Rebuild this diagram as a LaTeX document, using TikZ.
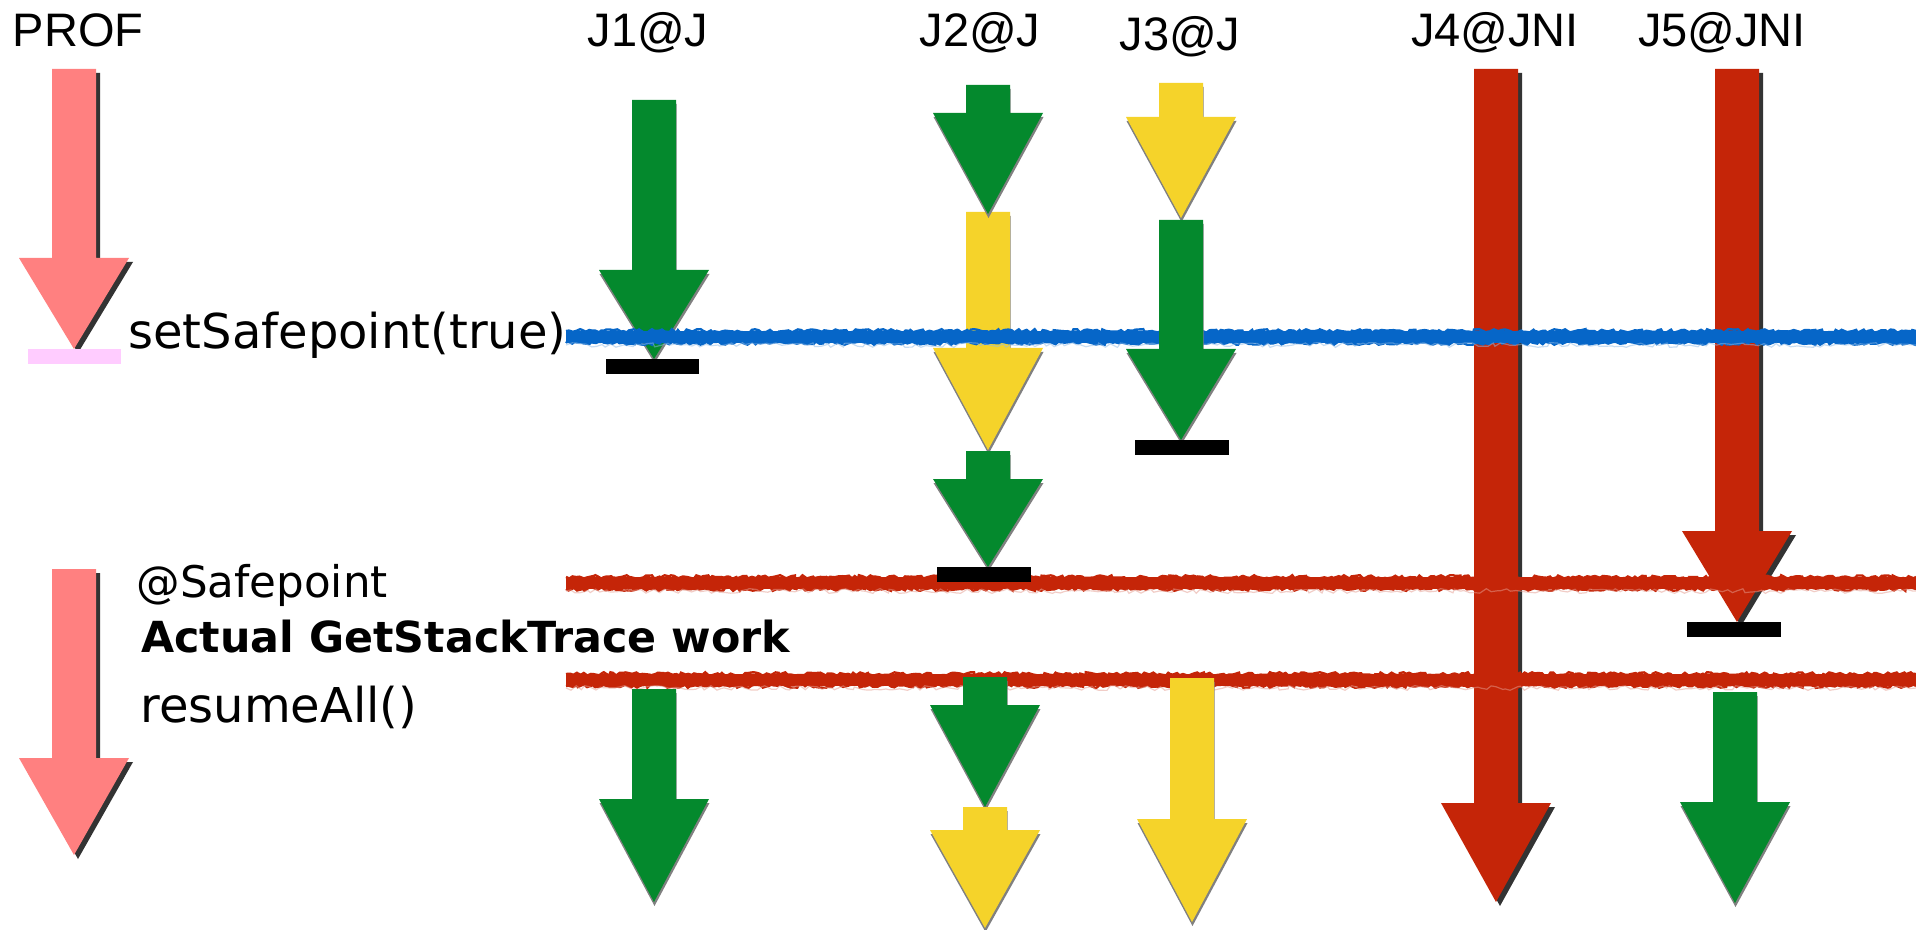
\documentclass[tikz,border=0pt]{standalone}
\usepackage{fontspec}
\setmainfont{DejaVu Sans}
\newfontfamily\hdfont{Liberation Sans}
\usetikzlibrary{decorations.pathmorphing}
\definecolor{jgreen}{RGB}{4,137,45}
\definecolor{jyellow}{RGB}{245,211,42}
\definecolor{jred}{RGB}{197,37,8}
\definecolor{jpink}{RGB}{255,128,128}
\definecolor{jbar}{RGB}{255,204,255}
\definecolor{jblue}{RGB}{6,102,200}
\definecolor{shgray}{RGB}{128,128,128}
\definecolor{shdark}{RGB}{51,51,51}
\newcommand\arrowpath[4]{(#1-22,#2) -- (#1+22,#2) -- (#1+22,#3) -- (#1+55,#3) -- (#1,#4) -- (#1-55,#3) -- (#1-22,#3) -- cycle}
\newcommand\blkarrow[6]{%
  \fill[#2] \arrowpath{#3}{#4}{#5}{#6};
  \fill[#1] \arrowpath{#3}{#4}{#5}{#6};}
\newcommand\chalkline[2]{%
  \draw[#1, line width=5.6pt] (566,#2) -- (1916,#2);
  \draw[#1, line width=1.2pt, decorate, decoration={random steps, segment length=1.6pt, amplitude=0.9pt}] (566,#2-6) -- (1916,#2-6);
  \draw[#1, line width=1.2pt, decorate, decoration={random steps, segment length=1.6pt, amplitude=0.9pt}] (566,#2+6) -- (1916,#2+6);
  \draw[#1!45!white, opacity=0.5, line width=0.6pt, decorate, decoration={random steps, segment length=2.5pt, amplitude=1.2pt}] (566,#2+8) -- (1916,#2+8);}
\tikzset{
  greenfill/.style={fill=jgreen},
  yellowfill/.style={fill=jyellow},
  redfill/.style={fill=jred},
  pinkfill/.style={fill=jpink},
  lightshadow/.style={fill=shgray, shift={(0.5,4)}},
  darkshadow/.style={fill=shdark, shift={(4,4)}},
  stopbar/.style={fill=black},
  hd/.style={font=\hdfont\fontsize{23.5}{28}\selectfont, inner sep=0pt},
  lbl/.style={font=\fontsize{24}{28}\selectfont, inner sep=0pt, anchor=base west},
  lblsmall/.style={font=\fontsize{21.8}{28}\selectfont, inner sep=0pt, anchor=base west},
  lblbold/.style={font=\bfseries\fontsize{21.4}{28}\selectfont, inner sep=0pt, anchor=base west}
}
\begin{document}
\begin{tikzpicture}[x=0.5pt, y=-0.5pt]
\pgfmathsetseed{7}
\useasboundingbox (0,0) rectangle (1916,930);
\fill[white] (0,0) rectangle (1916,930);
% headers
\node[hd, anchor=base] (prof) at (78,47) {PROF};
\node[hd, anchor=base] (j1) at (648,47) {J1@J};
\node[hd, anchor=base] (j2) at (980,47) {J2@J};
\node[hd, anchor=base] (j3) at (1180,51) {J3@J};
\node[hd, anchor=base] (j4) at (1495,47) {J4@JNI};
\node[hd, anchor=base] (j5) at (1722,47) {J5@JNI};
% left labels
\node[lbl] (setsp) at (128,349) {setSafepoint(true)};
\node[lblsmall] (atsp) at (136,597) {@Safepoint};
\node[lblbold] (work) at (141,652) {Actual GetStackTrace work};
\node[lbl] (resume) at (140,722) {resumeAll()};
% PROF
\blkarrow{pinkfill}{darkshadow}{74}{69}{258}{349}
\fill[jbar] (28,349) rectangle (121,364);
\blkarrow{pinkfill}{darkshadow}{74}{569}{758}{855}
% arrows under the lines
\blkarrow{redfill}{darkshadow}{1496}{69}{803}{902}
\blkarrow{redfill}{darkshadow}{1737}{69}{531}{622}
\blkarrow{greenfill}{lightshadow}{654}{100}{270}{359}
\blkarrow{yellowfill}{lightshadow}{988}{212}{348}{450}
\blkarrow{greenfill}{lightshadow}{988}{85}{113}{214}
\blkarrow{greenfill}{lightshadow}{988}{451}{479}{567}
\blkarrow{yellowfill}{lightshadow}{1181}{83}{117}{218}
% chalk lines
\chalkline{jblue}{337}
\chalkline{jred}{583}
\chalkline{jred}{680}
% arrows over the lines
\blkarrow{greenfill}{lightshadow}{1181}{220}{349}{440}
\blkarrow{greenfill}{lightshadow}{654}{689}{799}{902}
\blkarrow{greenfill}{lightshadow}{985}{677}{705}{807}
\blkarrow{yellowfill}{lightshadow}{985}{807}{830}{928}
\blkarrow{yellowfill}{lightshadow}{1192}{678}{819}{922}
\blkarrow{greenfill}{lightshadow}{1735}{692}{802}{903}
% stop bars
\fill[stopbar] (606,359) rectangle (699,374);
\fill[stopbar] (937,567) rectangle (1031,582);
\fill[stopbar] (1135,440) rectangle (1229,455);
\fill[stopbar] (1687,622) rectangle (1781,637);
\end{tikzpicture}
\end{document}
